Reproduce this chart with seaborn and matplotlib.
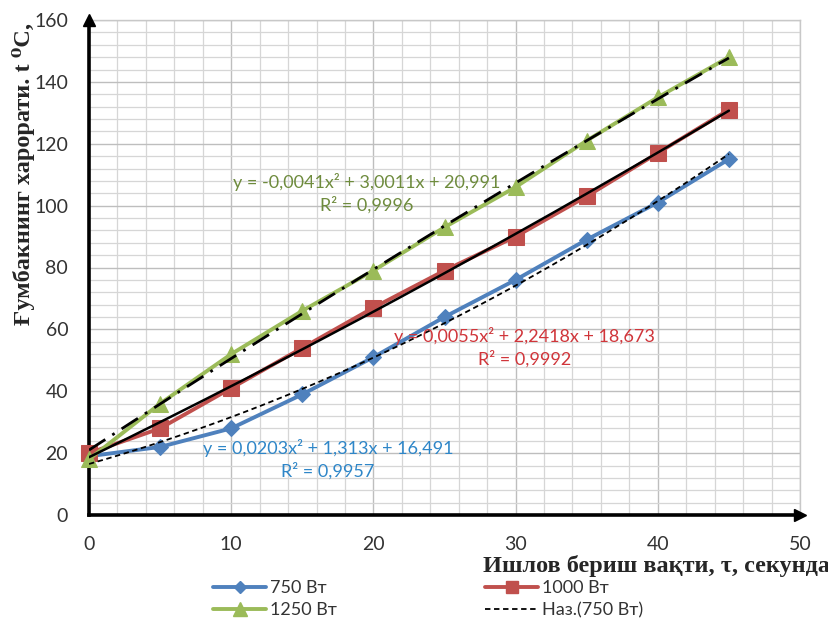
import numpy as np
import pandas as pd
import matplotlib
matplotlib.use("Agg")
import matplotlib.pyplot as plt
from matplotlib.lines import Line2D
from matplotlib.ticker import MultipleLocator
import seaborn as sns

# Heating time, s
time_s = [0, 5, 10, 15, 20, 25, 30, 35, 40, 45]
# Measured cocoon temperature, °C, for each heater power
temp_750 = [19, 22, 28, 39, 51, 64, 76, 89, 101, 115]
temp_1000 = [20, 28, 41, 54, 67, 79, 90, 103, 117, 131]
temp_1250 = [18, 36, 52, 66, 79, 93, 106, 121, 135, 148]
series_names = ["750 Вт", "1000 Вт", "1250 Вт"]

# Polynomial (2nd order) trend coefficients: a, b, c for y = a x^2 + b x + c
fit_750 = [0.0203, 1.313, 16.491]
fit_1000 = [0.0055, 2.2418, 18.673]
fit_1250 = [-0.0041, 3.0011, 20.991]
r2_values = [0.9957, 0.9992, 0.9996]

x_ticks = [0, 10, 20, 30, 40, 50]
y_ticks = [0, 20, 40, 60, 80, 100, 120, 140, 160]

colors = {"750 Вт": "#4F81BD", "1000 Вт": "#C0504D", "1250 Вт": "#9BBB59"}
markers = {"750 Вт": "D", "1000 Вт": "s", "1250 Вт": "^"}
marker_sizes = {"750 Вт": 8, "1000 Вт": 11, "1250 Вт": 12}
label_colors = {"750 Вт": "#2E86C8", "1000 Вт": "#D0353A", "1250 Вт": "#6E8B3D"}

sns.set_style("white")
plt.rcParams["font.family"] = ["Lato", "Open Sans", "DejaVu Sans"]

df = pd.DataFrame({
    "t": time_s * 3,
    "temp": temp_750 + temp_1000 + temp_1250,
    "series": [n for n in series_names for _ in time_s],
})

fig = plt.figure(figsize=(8.29, 6.19), dpi=100)
ax = fig.add_axes([89 / 829, 104 / 619, 711 / 829, 495 / 619])

# Grid
ax.set_xlim(0, 50)
ax.set_ylim(0, 160)
ax.xaxis.set_major_locator(MultipleLocator(10))
ax.xaxis.set_minor_locator(MultipleLocator(2))
ax.yaxis.set_major_locator(MultipleLocator(20))
ax.yaxis.set_minor_locator(MultipleLocator(4))
ax.grid(which="major", color="#BEBEBE", linewidth=1.0, zorder=0)
ax.grid(which="minor", color="#D6D6D6", linewidth=0.9, zorder=0)
ax.set_axisbelow(True)

# Measured series
for name in series_names:
    sub = df[df["series"] == name]
    sns.lineplot(data=sub, x="t", y="temp", ax=ax, color=colors[name],
                 marker=markers[name], markersize=marker_sizes[name],
                 markeredgecolor=colors[name], linewidth=2.8,
                 legend=False, zorder=3, clip_on=False)

# Trend lines drawn from the stated coefficients
xt = np.linspace(0, 45, 200)
trend_styles = {
    "750 Вт": dict(linestyle=(0, (3, 2)), linewidth=1.3),
    "1000 Вт": dict(linestyle="-", linewidth=1.8),
    "1250 Вт": dict(linestyle=(0, (7, 3, 1, 3)), linewidth=2.0),
}
fits = {"750 Вт": fit_750, "1000 Вт": fit_1000, "1250 Вт": fit_1250}
for name in series_names:
    a, b, c = fits[name]
    ax.plot(xt, a * xt ** 2 + b * xt + c, color="black", zorder=4,
            **trend_styles[name])


def num(v):
    return f"{v:g}".replace(".", ",")


def equation(coefs):
    a, b, c = coefs
    return f"y = {num(a)}x² + {num(b)}x + {num(c)}"


# Equation labels (data coordinates)
eq_pos = {"1250 Вт": (19.5, 104.0), "1000 Вт": (30.6, 54.1), "750 Вт": (16.8, 17.9)}
for name, r2 in zip(series_names, r2_values):
    x0, y0 = eq_pos[name]
    ax.text(x0, y0, equation(fits[name]) + "\nR² = " + num(r2),
            color=label_colors[name], fontsize=13, ha="center", va="center",
            linespacing=1.35, zorder=5)

# Axes styling: heavy left/bottom with arrow heads
for side in ["top", "right"]:
    ax.spines[side].set_color("#C8C8C8")
    ax.spines[side].set_linewidth(1.0)
for side in ["left", "bottom"]:
    ax.spines[side].set_color("black")
    ax.spines[side].set_linewidth(2.6)
ax.plot(0, 1, marker="^", color="black", markersize=9, transform=ax.transAxes,
        clip_on=False, zorder=6)
ax.plot(1, 0, marker=">", color="black", markersize=9, transform=ax.transAxes,
        clip_on=False, zorder=6)

ax.set_xticks(x_ticks)
ax.set_yticks(y_ticks)
ax.tick_params(axis="both", which="major", direction="out", length=6, width=2.6,
               color="black", labelsize=14, labelcolor="#333333")
ax.tick_params(axis="x", which="major", pad=9)
ax.tick_params(axis="y", which="major", pad=9)
ax.tick_params(which="minor", length=0)
ax.set_xlabel("")
ax.set_ylabel("")

serif = ["Liberation Serif", "DejaVu Serif"]
fig.text(24 / 829, 1 - 174 / 619, "Ғумбакнинг харорати. t ⁰C,", rotation=90,
         ha="center", va="center", fontsize=17.5, fontweight="bold", family=serif)
fig.text(483 / 829, 1 - 566 / 619, "Ишлов бериш вақти, τ, секунда",
         ha="left", va="center", fontsize=17.5, fontweight="bold", family=serif)

# Legend
def handle(name):
    return Line2D([], [], color=colors[name], marker=markers[name],
                  markersize=marker_sizes[name] - 2, linewidth=2.8)

trend_handle = Line2D([], [], color="black", linestyle=(0, (3, 2)), linewidth=1.3)
leg_kw = dict(frameon=False, fontsize=13, handlelength=2.95, handletextpad=0.2,
              labelspacing=0.33, labelcolor="#333333", borderaxespad=0)
leg1 = fig.legend([handle("750 Вт"), handle("1250 Вт")], ["750 Вт", "1250 Вт"],
                  loc="upper left", bbox_to_anchor=(206 / 829, 1 - 573 / 619), **leg_kw)
leg2 = fig.legend([handle("1000 Вт"), trend_handle], ["1000 Вт", "Наз.(750 Вт)"],
                  loc="upper left", bbox_to_anchor=(478 / 829, 1 - 573 / 619), **leg_kw)

fig.savefig("out.png", dpi=100)
